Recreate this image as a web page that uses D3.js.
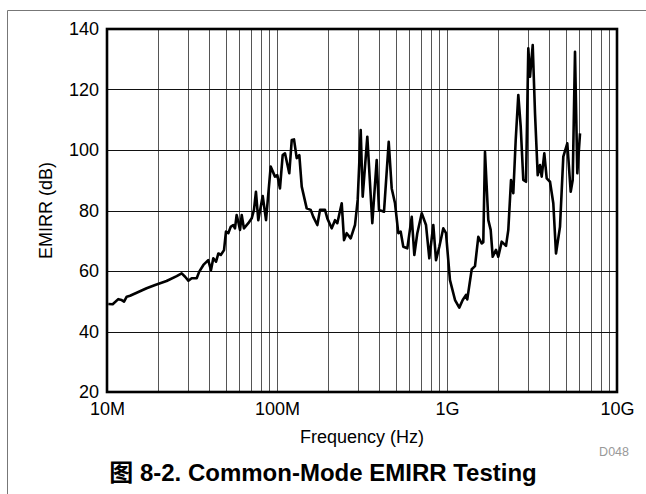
<!DOCTYPE html>
<html>
<head>
<meta charset="utf-8">
<script src="https://cdn.jsdelivr.net/npm/d3@7"></script>
<style>
  html, body { margin: 0; padding: 0; background: #fff; }
  svg { display: block; }
</style>
</head>
<body>
<svg id="chart" width="646" height="494"></svg>
<script>
// Frequency sweep points (MHz) and measured common-mode EMIRR (dB)
const freqMHz = [
  10.18, 10.8, 11.65, 12.2, 12.6, 13.06, 13.66, 14.95, 17.1, 19.2,
  22.4, 25.7, 27.5, 28.8, 30.1, 31.5, 33.7, 34.9, 36.9, 39.4,
  40.9, 42.2, 43.8, 45.2, 46.7, 48.8, 50.1, 51.7, 53.4, 55.3,
  56.6, 57.9, 59.2, 60.6, 62.0, 63.9, 67.8, 71.0, 73.2, 75.2,
  77.6, 82.4, 86.2, 91.8, 97.3, 100.4, 104.1, 108.0, 111.4, 118.1,
  122.1, 125.9, 130.6, 135.3, 139.8, 149.5, 157.9, 163.5, 172.7, 179.1,
  191.6, 197.7, 209.8, 219.4, 226.3, 240.3, 247.9, 257.0, 271.3, 287.6,
  298.3, 310.7, 319.2, 339.8, 363.6, 385.9, 398.1, 426.0, 454.1, 472.9,
  494.5, 517.1, 534.1, 553.3, 584.2, 620.1, 642.3, 669.0, 710.1, 752.6,
  787.0, 830.8, 861.7, 901.1, 951.0, 986.5, 1041, 1115, 1181, 1237,
  1294, 1316, 1398, 1461, 1528, 1600, 1635, 1673, 1750, 1807,
  1857, 1942, 2003, 2098, 2224, 2294, 2380, 2455, 2536, 2627,
  2714, 2811, 2916, 3008, 3078, 3193, 3294, 3416, 3524, 3606,
  3736, 3859, 4036, 4220, 4377, 4620, 4832, 5101, 5341, 5489,
  5662, 5842, 6060
];
const emirrDb = [
  49.1, 49.0, 50.7, 50.4, 49.9, 51.5, 51.8, 52.8, 54.3, 55.4,
  56.7, 58.3, 59.2, 58.1, 56.8, 57.6, 57.6, 59.8, 62.0, 63.6,
  60.3, 64.2, 63.1, 65.8, 65.3, 66.9, 73.0, 72.5, 74.6, 75.2,
  74.1, 78.5, 76.3, 73.6, 78.5, 74.1, 75.8, 77.4, 80.2, 86.2,
  76.8, 84.8, 76.8, 94.5, 91.2, 91.7, 87.3, 98.3, 98.9, 92.3,
  103.3, 103.5, 97.3, 98.3, 87.9, 80.7, 80.2, 77.9, 75.2, 80.2,
  80.2, 77.4, 74.1, 76.8, 75.8, 82.4, 70.2, 72.5, 70.8, 75.2,
  83.5, 106.6, 84.6, 104.4, 75.8, 96.7, 80.2, 79.6, 102.7, 87.3,
  82.4, 72.5, 73.0, 68.0, 67.5, 77.9, 65.3, 72.5, 79.1, 75.2,
  64.2, 75.2, 63.6, 68.0, 74.1, 72.5, 57.0, 50.4, 47.9, 50.4,
  52.1, 50.6, 60.6, 61.6, 71.3, 69.1, 69.5, 99.4, 76.8, 73.6,
  64.7, 67.0, 64.7, 69.7, 68.3, 73.6, 90.1, 85.7, 103.3, 118.2,
  107.7, 90.1, 89.5, 133.6, 124.2, 134.7, 112.1, 91.7, 95.0, 91.2,
  98.9, 90.6, 89.5, 82.4, 65.8, 74.6, 97.8, 102.2, 86.2, 90.1,
  132.5, 92.3, 105.5
];

// Axis ticks
const xTickValues = [10, 100, 1000, 10000];
const xTickLabels = ["10M", "100M", "1G", "10G"];
const yTickValues = [20, 40, 60, 80, 100, 120, 140];

const svg = d3.select("#chart");
const W = 646, H = 494;
const plot = { left: 107, right: 617, top: 29, bottom: 392 };
const font = "'Liberation Sans', Arial, sans-serif";

const x = d3.scaleLog().domain([10, 10000]).range([plot.left, plot.right]);
const y = d3.scaleLinear().domain([20, 140]).range([plot.bottom, plot.top]);

// Outer figure frame (top and left edges)
svg.append("path")
  .attr("d", `M7.5,${H} L7.5,10.5 L${W},10.5`)
  .attr("fill", "none")
  .attr("stroke", "#777")
  .attr("stroke-width", 1);

// Vertical grid: every 1..9 step within each decade
const minorTicks = [];
[10, 100, 1000].forEach(dec => {
  for (let k = 1; k <= 9; k++) minorTicks.push(dec * k);
});
svg.append("g")
  .selectAll("line")
  .data(minorTicks.filter(v => v > 10))
  .join("line")
  .attr("x1", d => Math.round(x(d)) + 0.5)
  .attr("x2", d => Math.round(x(d)) + 0.5)
  .attr("y1", plot.top)
  .attr("y2", plot.bottom)
  .attr("stroke", "#555")
  .attr("stroke-width", 1);

// Horizontal grid
svg.append("g")
  .selectAll("line")
  .data(yTickValues.slice(1, -1))
  .join("line")
  .attr("x1", plot.left)
  .attr("x2", plot.right)
  .attr("y1", d => Math.round(y(d)) + 0.5)
  .attr("y2", d => Math.round(y(d)) + 0.5)
  .attr("stroke", "#111")
  .attr("stroke-width", 1);

// Y axis labels
const yAxis = d3.axisLeft(y).tickValues(yTickValues).tickSize(0).tickPadding(8);
const gy = svg.append("g").attr("transform", `translate(${plot.left},0)`).call(yAxis);
gy.select(".domain").remove();
gy.selectAll("text")
  .attr("font-family", font)
  .attr("font-size", 18)
  .attr("fill", "#000");

// X axis labels
const xAxis = d3.axisBottom(x).tickValues(xTickValues)
  .tickFormat((d, i) => xTickLabels[i]).tickSize(0).tickPadding(10);
const gx = svg.append("g").attr("transform", `translate(0,${plot.bottom})`).call(xAxis);
gx.select(".domain").remove();
gx.selectAll("text")
  .attr("font-family", font)
  .attr("font-size", 18)
  .attr("fill", "#000");

// Data curve
const pts = freqMHz.map((f, i) => [f, emirrDb[i]]);
svg.append("path")
  .datum(pts)
  .attr("fill", "none")
  .attr("stroke", "#000")
  .attr("stroke-width", 2.6)
  .attr("stroke-linejoin", "round")
  .attr("d", d3.line().x(d => x(d[0])).y(d => y(d[1])));

// Plot frame
svg.append("rect")
  .attr("x", plot.left)
  .attr("y", plot.top)
  .attr("width", plot.right - plot.left)
  .attr("height", plot.bottom - plot.top)
  .attr("fill", "none")
  .attr("stroke", "#000")
  .attr("stroke-width", 2.6);

// Axis titles
svg.append("text")
  .attr("x", (plot.left + plot.right) / 2)
  .attr("y", 443)
  .attr("text-anchor", "middle")
  .attr("font-family", font)
  .attr("font-size", 18)
  .text("Frequency (Hz)");

svg.append("text")
  .attr("transform", `translate(52,${(plot.top + plot.bottom) / 2}) rotate(-90)`)
  .attr("text-anchor", "middle")
  .attr("font-family", font)
  .attr("font-size", 18)
  .text("EMIRR (dB)");

svg.append("text")
  .attr("x", 629)
  .attr("y", 456)
  .attr("text-anchor", "end")
  .attr("font-family", font)
  .attr("font-size", 12.5)
  .attr("fill", "#999")
  .text("D048");

// Figure caption
const cap = svg.append("text")
  .attr("x", 323)
  .attr("y", 481)
  .attr("text-anchor", "middle")
  .attr("font-family", font)
  .attr("font-weight", "bold")
  .attr("font-size", 24);
cap.append("tspan")
  .attr("font-family", "'Noto Sans CJK SC', sans-serif")
  .text("图");
cap.append("tspan").text(" 8-2. Common-Mode EMIRR Testing");
</script>
</body>
</html>
